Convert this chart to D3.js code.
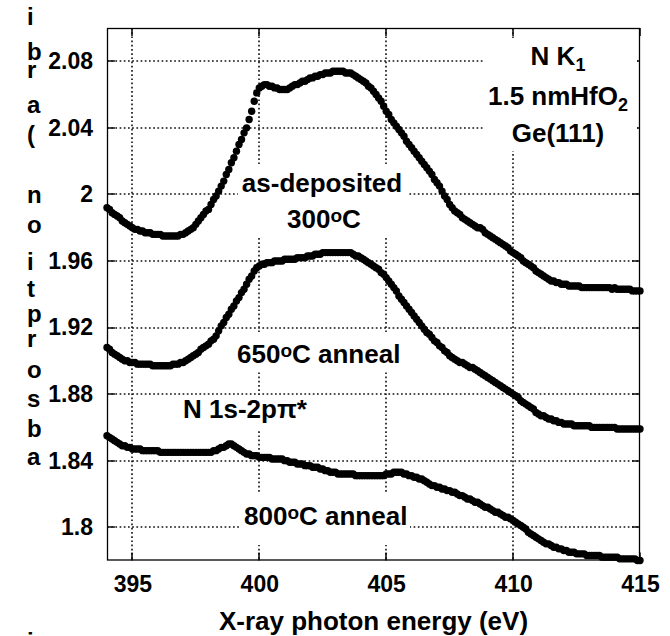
<!DOCTYPE html>
<html>
<head>
<meta charset="utf-8">
<script src="https://cdn.jsdelivr.net/npm/d3@7"></script>
<style>
  html, body { margin: 0; padding: 0; background: #fff; }
  svg { display: block; font-family: "Liberation Sans", Arial, Helvetica, sans-serif; font-weight: bold; }
</style>
</head>
<body>
<svg id="chart" width="670" height="636"></svg>
<script>
// Photon energy grid of the scans (eV)
const energyStart = 394;
const energyStep = 0.1;

// N K-edge absorption, 1.5 nm HfO2 on Ge(111), 394.0 ... 415.0 eV
const asDeposited = [
  1.992,1.991,1.989,1.988,1.987,1.986,1.984,1.983,1.982,1.981,
  1.980,1.979,1.979,1.978,1.978,1.977,1.977,1.977,1.976,1.976,
  1.976,1.976,1.975,1.975,1.975,1.975,1.975,1.975,1.975,1.976,
  1.976,1.977,1.978,1.979,1.980,1.982,1.984,1.986,1.988,1.990,
  1.991,1.994,1.997,1.999,2.002,2.005,2.008,2.012,2.015,2.019,
  2.022,2.026,2.030,2.033,2.037,2.040,2.045,2.050,2.056,2.061,
  2.064,2.065,2.066,2.066,2.065,2.065,2.064,2.064,2.063,2.063,
  2.063,2.063,2.064,2.065,2.066,2.066,2.067,2.068,2.068,2.069,
  2.070,2.070,2.071,2.071,2.072,2.072,2.073,2.073,2.073,2.074,
  2.074,2.074,2.074,2.074,2.073,2.073,2.073,2.072,2.071,2.070,
  2.069,2.068,2.067,2.065,2.064,2.062,2.060,2.058,2.056,2.053,
  2.050,2.048,2.045,2.043,2.041,2.039,2.037,2.035,2.032,2.030,
  2.028,2.026,2.024,2.022,2.020,2.018,2.016,2.014,2.012,2.009,
  2.007,2.005,2.002,1.999,1.997,1.994,1.992,1.990,1.989,1.988,
  1.986,1.985,1.984,1.983,1.982,1.981,1.980,1.980,1.979,1.977,
  1.976,1.975,1.974,1.973,1.972,1.971,1.970,1.969,1.968,1.966,
  1.965,1.964,1.963,1.962,1.960,1.959,1.958,1.957,1.956,1.954,
  1.953,1.952,1.951,1.950,1.949,1.948,1.948,1.947,1.947,1.946,
  1.946,1.946,1.945,1.945,1.945,1.945,1.945,1.944,1.944,1.944,
  1.944,1.944,1.944,1.944,1.944,1.944,1.944,1.944,1.944,1.943,
  1.944,1.943,1.943,1.943,1.943,1.943,1.943,1.942,1.942,1.942,
  1.942
];

const anneal650 = [
  1.908,1.907,1.905,1.904,1.903,1.902,1.901,1.900,1.900,1.899,
  1.899,1.899,1.898,1.898,1.898,1.898,1.898,1.898,1.897,1.897,
  1.897,1.897,1.897,1.897,1.897,1.897,1.898,1.898,1.898,1.899,
  1.899,1.900,1.901,1.902,1.903,1.904,1.905,1.907,1.908,1.909,
  1.910,1.912,1.913,1.915,1.918,1.921,1.923,1.926,1.928,1.931,
  1.933,1.936,1.938,1.941,1.943,1.946,1.949,1.951,1.954,1.956,
  1.957,1.958,1.958,1.959,1.959,1.959,1.960,1.960,1.960,1.960,
  1.961,1.961,1.961,1.961,1.961,1.962,1.962,1.962,1.962,1.963,
  1.963,1.963,1.964,1.964,1.964,1.965,1.965,1.965,1.965,1.965,
  1.965,1.965,1.965,1.965,1.965,1.965,1.965,1.964,1.963,1.963,
  1.962,1.961,1.960,1.959,1.958,1.957,1.956,1.955,1.953,1.952,
  1.950,1.948,1.946,1.944,1.942,1.939,1.937,1.935,1.933,1.931,
  1.929,1.927,1.925,1.923,1.921,1.919,1.917,1.916,1.914,1.912,
  1.911,1.909,1.908,1.906,1.905,1.903,1.902,1.901,1.900,1.899,
  1.899,1.898,1.897,1.896,1.896,1.895,1.894,1.893,1.892,1.891,
  1.890,1.889,1.888,1.887,1.886,1.885,1.884,1.883,1.882,1.881,
  1.880,1.879,1.878,1.876,1.875,1.874,1.873,1.872,1.871,1.869,
  1.868,1.867,1.867,1.866,1.865,1.865,1.864,1.864,1.863,1.863,
  1.862,1.862,1.862,1.862,1.861,1.861,1.861,1.861,1.861,1.861,
  1.861,1.860,1.860,1.860,1.860,1.860,1.860,1.860,1.860,1.860,
  1.860,1.859,1.859,1.859,1.859,1.859,1.859,1.859,1.859,1.859,
  1.859
];

const anneal800 = [
  1.855,1.854,1.853,1.852,1.851,1.850,1.849,1.849,1.848,1.848,
  1.847,1.847,1.847,1.847,1.846,1.846,1.846,1.846,1.846,1.846,
  1.846,1.845,1.845,1.845,1.845,1.845,1.845,1.845,1.845,1.845,
  1.845,1.845,1.845,1.845,1.845,1.845,1.845,1.845,1.845,1.845,
  1.845,1.845,1.846,1.846,1.847,1.848,1.848,1.849,1.850,1.850,
  1.849,1.848,1.847,1.846,1.845,1.844,1.844,1.843,1.843,1.843,
  1.842,1.842,1.842,1.842,1.842,1.841,1.841,1.841,1.841,1.841,
  1.840,1.840,1.839,1.839,1.839,1.838,1.838,1.838,1.837,1.837,
  1.837,1.836,1.836,1.836,1.835,1.835,1.834,1.834,1.833,1.833,
  1.833,1.832,1.832,1.832,1.832,1.832,1.832,1.832,1.831,1.831,
  1.831,1.831,1.831,1.831,1.831,1.831,1.831,1.831,1.831,1.831,
  1.832,1.832,1.832,1.833,1.833,1.833,1.833,1.832,1.832,1.831,
  1.831,1.830,1.830,1.829,1.829,1.828,1.827,1.826,1.825,1.825,
  1.824,1.824,1.823,1.823,1.822,1.822,1.821,1.821,1.820,1.819,
  1.819,1.818,1.817,1.817,1.816,1.815,1.815,1.814,1.813,1.812,
  1.812,1.811,1.810,1.809,1.809,1.808,1.807,1.806,1.806,1.805,
  1.804,1.803,1.802,1.801,1.800,1.799,1.797,1.796,1.795,1.794,
  1.793,1.792,1.791,1.790,1.790,1.789,1.788,1.788,1.787,1.787,
  1.786,1.786,1.785,1.785,1.785,1.784,1.784,1.784,1.784,1.783,
  1.783,1.783,1.783,1.783,1.783,1.782,1.782,1.782,1.782,1.782,
  1.782,1.782,1.781,1.781,1.781,1.781,1.781,1.781,1.781,1.780,
  1.780
];

const xTicks = [395, 400, 405, 410, 415];
const yTicks = [1.8, 1.84, 1.88, 1.92, 1.96, 2, 2.04, 2.08];
const xTitle = "X-ray photon energy (eV)";
// vertical axis title, one upright letter per row, read bottom to top
const yTitleChars = ["a","b","s","o","r","p","t","i","o","n","(","a","r","b","i","i"];
const yTitleRows  = [465,437,407,378,347,322,297,270,233,203,143,113,78,60,25,650];

const plot = { left: 107, right: 640, top: 28, bottom: 560.5 };

const svg = d3.select("#chart");
const x = d3.scaleLinear().domain([394, 415]).range([plot.left, plot.right]);
const y = d3.scaleLinear().domain([1.78, 2.10]).range([plot.bottom, plot.top]);

const energies = asDeposited.map((_, i) => +(energyStart + i * energyStep).toFixed(1));
const px = v => Math.round(x(v));
const py = v => Math.round(y(v));

// dotted grid
const gridPath = xTicks.filter(t => t < 415).map(t => `M${px(t)},${plot.top}V${plot.bottom}`).join("")
  + yTicks.map(t => `M${plot.left},${py(t)}H${plot.right}`).join("");
svg.append("path").attr("class", "grid")
  .attr("d", gridPath)
  .style("fill", "none").style("stroke", "#111").style("stroke-width", "1.6px")
  .style("stroke-dasharray", "1.7 2.5");

// short solid ticks on all four sides
const tl = 8;
const tickPath = yTicks.map(t => `M${plot.left},${py(t)}h${tl}M${plot.right},${py(t)}h${-tl}`).join("")
  + xTicks.map(t => `M${px(t)},${plot.bottom}v${-tl}M${px(t)},${plot.top}v${tl}`).join("");
svg.append("path").attr("class", "ticks")
  .attr("d", tickPath)
  .style("fill", "none").style("stroke", "#111").style("stroke-width", "1.6px");

// annotation labels, each on a white panel that interrupts the grid
const notes = svg.append("g");
function note(panel, lines) {
  const g = notes.append("g");
  g.append("rect").attr("x", panel[0]).attr("y", panel[1])
    .attr("width", panel[2] - panel[0]).attr("height", panel[3] - panel[1])
    .style("fill", "#fff");
  lines.forEach(l => {
    const t = g.append("text").attr("x", l.x).attr("y", l.y)
      .attr("text-anchor", l.anchor || "middle").attr("font-size", 26).style("fill", "#000");
    l.parts.forEach(p => {
      const s = t.append("tspan").text(p.t);
      if (p.size) s.attr("font-size", p.size);
      if (p.dy) s.attr("dy", p.dy);
    });
  });
}

note([485, 40, 637, 151], [
  { x: 558, y: 65,  parts: [{ t: "N K" }, { t: "1", size: 18, dy: 6 }] },
  { x: 558, y: 105, parts: [{ t: "1.5 nmHfO" }, { t: "2", size: 18, dy: 6 }] },
  { x: 558, y: 142, parts: [{ t: "Ge(111)" }] }
]);
note([238, 166, 408, 237], [
  { x: 322, y: 192, parts: [{ t: "as-deposited" }] },
  { x: 324, y: 228, parts: [{ t: "300" }, { t: "o", size: 19, dy: -6 }, { t: "C", dy: 6 }] }
]);
note([233, 332, 400, 372], [
  { x: 237, y: 363, anchor: "start", parts: [{ t: "650" }, { t: "o", size: 19, dy: -6 }, { t: "C anneal", dy: 6 }] }
]);
note([180, 397, 304, 430], [
  { x: 183, y: 418, anchor: "start", parts: [{ t: "N 1s-2p\u03c0*" }] }
]);
note([240, 492, 410, 545], [
  { x: 244, y: 525, anchor: "start", parts: [{ t: "800" }, { t: "o", size: 19, dy: -6 }, { t: "C anneal", dy: 6 }] }
]);

// spectra, one dot per sampled energy
const series = [asDeposited, anneal650, anneal800];
const curves = svg.append("g").style("fill", "#000");
series.forEach(vals => {
  curves.append("g").selectAll("circle").data(vals).join("circle")
    .attr("cx", (d, i) => x(energies[i]))
    .attr("cy", d => y(d))
    .attr("r", 3.7);
});

// frame
svg.append("rect")
  .attr("x", plot.left + 0.5).attr("y", plot.top + 0.5)
  .attr("width", plot.right - plot.left - 1).attr("height", plot.bottom - plot.top - 1)
  .style("fill", "none").style("stroke", "#000").style("stroke-width", "1.3px");

// axes (labels only)
const xAxis = svg.append("g").attr("transform", `translate(0,${plot.bottom})`)
  .call(d3.axisBottom(x).tickValues(xTicks).tickSize(0).tickPadding(15).tickFormat(d3.format("d")));
const yAxis = svg.append("g").attr("transform", `translate(${plot.left},0)`)
  .call(d3.axisLeft(y).tickValues(yTicks).tickSize(0).tickPadding(14).tickFormat(d => String(+d.toFixed(2))));
[xAxis, yAxis].forEach(a => {
  a.select(".domain").remove();
  a.selectAll(".tick line").remove();
  a.attr("font-family", null).attr("font-size", null);
  a.selectAll("text").attr("font-size", 23).attr("font-weight", "bold").style("fill", "#000");
});

// axis titles
svg.append("text").attr("x", (plot.left + plot.right) / 2).attr("y", 630)
  .attr("text-anchor", "middle").attr("font-size", 26).style("fill", "#000").text(xTitle);

svg.append("g").selectAll("text").data(yTitleChars).join("text")
  .attr("x", 27).attr("y", (d, i) => yTitleRows[i])
  .attr("font-size", 24).style("fill", "#000").text(d => d);
</script>
</body>
</html>
